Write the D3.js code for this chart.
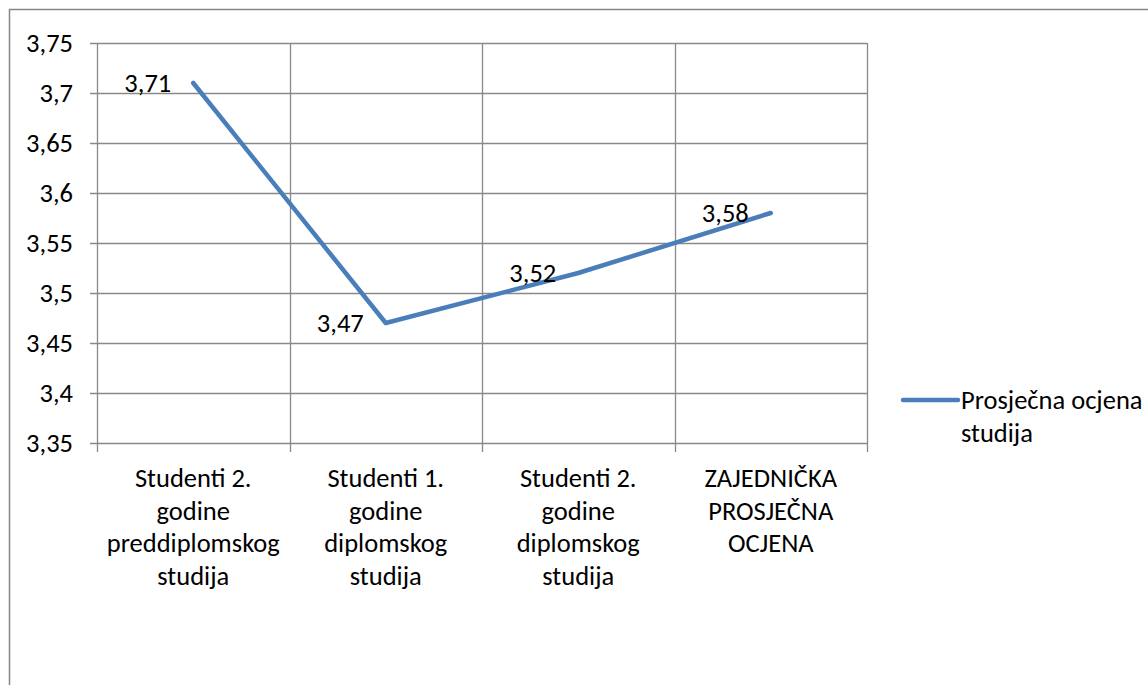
<!DOCTYPE html>
<html>
<head>
<meta charset="utf-8">
<script src="https://cdnjs.cloudflare.com/ajax/libs/d3/7.8.5/d3.min.js"></script>
<style>
 body { margin:0; background:#fff; }
 svg text { font-family: Carlito, Lato, "Open Sans", sans-serif; fill:#000; }
</style>
</head>
<body>
<script>
// chart data
var categories = [
  ["Studenti 2.", "godine", "preddiplomskog", "studija"],
  ["Studenti 1.", "godine", "diplomskog", "studija"],
  ["Studenti 2.", "godine", "diplomskog", "studija"],
  ["ZAJEDNIČKA", "PROSJEČNA", "OCJENA"]
];
var values = [3.71, 3.47, 3.52, 3.58];
var valueLabels = ["3,71", "3,47", "3,52", "3,58"];
var yTicks = [3.35, 3.4, 3.45, 3.5, 3.55, 3.6, 3.65, 3.7, 3.75];
var seriesName = ["Prosječna ocjena", "studija"];

var width = 1148, height = 685;
var fs = "26.5px";
var svg = d3.select('body').append('svg')
  .attr('width', width)
  .attr('height', height);

// outer chart border
svg.append("rect")
  .attr("x", 9.5).attr("y", 9.5)
  .attr("width", 1200).attr("height", 800)
  .attr("fill", "none").attr("stroke", "#868686").attr("stroke-width", 1.5);

var plotL = 97, plotR = 867, plotT = 43, plotB = 443;

var x = d3.scaleBand().domain(d3.range(categories.length)).range([plotL, plotR]);
var y = d3.scaleLinear().domain([3.35, 3.75]).range([plotB, plotT]);

var grid = "#898989";

// horizontal gridlines + tick marks
svg.append("g").selectAll("line").data(yTicks).enter().append("line")
  .attr("x1", plotL - 7).attr("x2", plotR)
  .attr("y1", function(d) { return Math.round(y(d)) + 0.5; })
  .attr("y2", function(d) { return Math.round(y(d)) + 0.5; })
  .attr("stroke", grid).attr("stroke-width", 1.3);

// vertical gridlines (category boundaries)
var bounds = d3.range(categories.length + 1).map(function(i) {
  return i < categories.length ? x(i) : x(i - 1) + x.bandwidth();
});
svg.append("g").selectAll("line").data(bounds).enter().append("line")
  .attr("x1", function(d) { return Math.round(d) + 0.5; })
  .attr("x2", function(d) { return Math.round(d) + 0.5; })
  .attr("y1", plotT).attr("y2", plotB + 9)
  .attr("stroke", grid).attr("stroke-width", 1.3);

// y tick labels
svg.append("g").selectAll("text").data(yTicks).enter().append("text")
  .attr("x", 73).attr("y", function(d) { return y(d); })
  .attr("dy", "0.35em")
  .attr("text-anchor", "end")
  .style("font-size", fs)
  .text(function(d) { return String(d).replace(".", ","); });

// category labels
var cat = svg.append("g").selectAll("text").data(categories).enter().append("text")
  .attr("text-anchor", "middle")
  .style("font-size", fs);
cat.each(function(lines, i) {
  var t = d3.select(this);
  lines.forEach(function(s, j) {
    t.append("tspan")
      .attr("x", x(i) + x.bandwidth() / 2)
      .attr("y", 487 + j * 32.5)
      .text(s);
  });
});

// series line
var line = d3.line()
  .x(function(d, i) { return x(i) + x.bandwidth() / 2; })
  .y(function(d) { return y(d); });
svg.append("path").datum(values)
  .attr("d", line)
  .attr("fill", "none")
  .attr("stroke", "#4a7ebb")
  .attr("stroke-width", 4.5)
  .attr("stroke-linecap", "round")
  .attr("stroke-linejoin", "round");

// data labels (left of point)
svg.append("g").selectAll("text").data(values).enter().append("text")
  .attr("x", function(d, i) { return x(i) + x.bandwidth() / 2 - 22; })
  .attr("y", function(d) { return y(d); })
  .attr("dy", "0.35em")
  .attr("text-anchor", "end")
  .style("font-size", fs)
  .text(function(d, i) { return valueLabels[i]; });

// legend
svg.append("line")
  .attr("x1", 903).attr("x2", 958)
  .attr("y1", 400).attr("y2", 400)
  .attr("stroke", "#4a7ebb").attr("stroke-width", 4.5)
  .attr("stroke-linecap", "round");
svg.append("text")
  .attr("x", 961).attr("y", 409)
  .style("font-size", fs)
  .text(seriesName[0]);
svg.append("text")
  .attr("x", 961).attr("y", 442)
  .style("font-size", fs)
  .text(seriesName[1]);
</script>
</body>
</html>
